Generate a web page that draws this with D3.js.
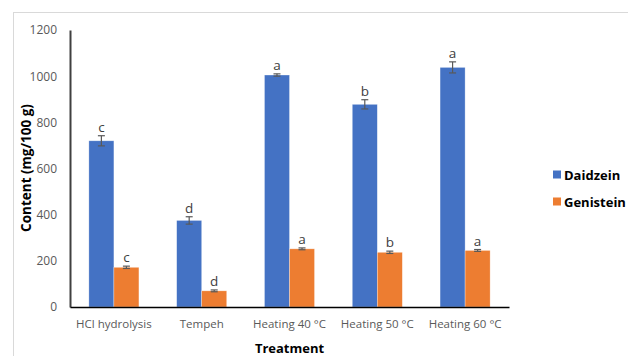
<!DOCTYPE html>
<html>
<head>
<meta charset="utf-8">
<script src="https://d3js.org/d3.v7.min.js"></script>
<style>
  html, body { margin: 0; padding: 0; background: #fff; }
  svg { display: block; font-family: 'Open Sans', 'Noto Sans', sans-serif; }
</style>
</head>
<body>
<svg id="chart" width="628" height="356"></svg>
<script>
const treatments = ['HCl hydrolysis', 'Tempeh', 'Heating 40 °C', 'Heating 50 °C', 'Heating 60 °C'];
const seriesNames = ['Daidzein', 'Genistein'];
const daidzein = [720, 375, 1005, 878, 1038];
const daidzeinErr = [22, 16, 5, 20, 24];
const daidzeinLetters = ['c', 'd', 'a', 'b', 'a'];
const genistein = [172, 70, 252, 237, 245];
const genisteinErr = [5, 4, 4, 5, 4];
const genisteinLetters = ['c', 'd', 'a', 'b', 'a'];
const yTicks = [0, 200, 400, 600, 800, 1000, 1200];

const colors = { Daidzein: '#4472C4', Genistein: '#ED7D31' };

const svg = d3.select('#chart');
const margin = { left: 70, right: 119, top: 30, bottom: 49 };
const W = 628, H = 356;

// outer chart frame (extends past picture on right/bottom)
svg.append('rect').attr('x', 13.5).attr('y', 12.5).attr('width', 640).attr('height', 360)
  .attr('fill', 'none').attr('stroke', '#d9d9d9');

const x0 = d3.scaleBand().domain(treatments).range([margin.left, W - margin.right]).paddingInner(0.43).paddingOuter(0.215);
const x1 = d3.scaleBand().domain(seriesNames).range([0, x0.bandwidth()]);
const y = d3.scaleLinear().domain([0, 1200]).range([H - margin.bottom, margin.top]);

const rows = treatments.map((t, i) => ({
  t,
  bars: [
    { s: 'Daidzein', v: daidzein[i], e: daidzeinErr[i], l: daidzeinLetters[i] },
    { s: 'Genistein', v: genistein[i], e: genisteinErr[i], l: genisteinLetters[i] }
  ]
}));

const g = svg.append('g').selectAll('g').data(rows).join('g')
  .attr('transform', d => `translate(${x0(d.t)},0)`);

g.selectAll('rect').data(d => d.bars).join('rect')
  .attr('x', d => x1(d.s))
  .attr('y', d => y(d.v))
  .attr('width', x1.bandwidth())
  .attr('height', d => y(0) - y(d.v))
  .attr('fill', d => colors[d.s])
  .attr('stroke', 'rgba(255,255,255,0.5)').attr('stroke-width', 0.6);

// error bars
const eb = g.selectAll('g.err').data(d => d.bars).join('g').attr('class', 'err')
  .attr('stroke', '#595959').attr('stroke-width', 1.2);
eb.append('line')
  .attr('x1', d => x1(d.s) + x1.bandwidth() / 2).attr('x2', d => x1(d.s) + x1.bandwidth() / 2)
  .attr('y1', d => y(d.v + d.e)).attr('y2', d => y(d.v - d.e));
eb.append('line')
  .attr('x1', d => x1(d.s) + x1.bandwidth() / 2 - 3.5).attr('x2', d => x1(d.s) + x1.bandwidth() / 2 + 3.5)
  .attr('y1', d => y(d.v + d.e)).attr('y2', d => y(d.v + d.e));
eb.append('line')
  .attr('x1', d => x1(d.s) + x1.bandwidth() / 2 - 3.5).attr('x2', d => x1(d.s) + x1.bandwidth() / 2 + 3.5)
  .attr('y1', d => y(d.v - d.e)).attr('y2', d => y(d.v - d.e));

// letters
g.selectAll('text.lab').data(d => d.bars).join('text').attr('class', 'lab')
  .attr('x', d => x1(d.s) + x1.bandwidth() / 2)
  .attr('y', d => y(d.v + d.e) - 4)
  .attr('text-anchor', 'middle')
  .attr('font-size', 13.5).attr('fill', '#404040')
  .text(d => d.l);

// y axis
const yAxis = svg.append('g').attr('transform', `translate(${margin.left},0)`)
  .call(d3.axisLeft(y).tickValues(yTicks).tickFormat(d3.format('d')).tickSize(0).tickPadding(13));
yAxis.select('.domain').attr('stroke', '#404040').attr('stroke-width', 2);
yAxis.selectAll('text').attr('font-size', 12).attr('fill', '#595959').attr('font-family', 'Open Sans, sans-serif');

// x axis
const xAxis = svg.append('g').attr('transform', `translate(0,${y(0)})`)
  .call(d3.axisBottom(x0).tickSize(0).tickPadding(13));
xAxis.select('.domain').attr('stroke', '#000').attr('stroke-width', 1.4);
xAxis.selectAll('text').attr('font-size', 11.5).attr('fill', '#595959').attr('font-family', 'Open Sans, sans-serif');

// axis titles
svg.append('text')
  .attr('transform', `translate(31,168) rotate(-90)`)
  .attr('text-anchor', 'middle').attr('font-weight', 'bold').attr('font-size', 13.5).attr('fill', '#000')
  .text('Content (mg/100 g)');
svg.append('text')
  .attr('x', (margin.left + W - margin.right) / 2).attr('y', 353)
  .attr('text-anchor', 'middle').attr('font-weight', 'bold').attr('font-size', 13).attr('fill', '#000')
  .text('Treatment');

// legend
const leg = svg.append('g').selectAll('g').data(seriesNames).join('g')
  .attr('transform', (d, i) => `translate(553,${175 + i * 27})`);
leg.append('rect').attr('x', 0).attr('y', -4.5).attr('width', 8).attr('height', 8).attr('fill', d => colors[d]);
leg.append('text').attr('x', 11).attr('y', 0).attr('dy', '0.35em')
  .attr('font-weight', 'bold').attr('font-size', 13).attr('fill', '#000').text(d => d);
</script>
</body>
</html>
